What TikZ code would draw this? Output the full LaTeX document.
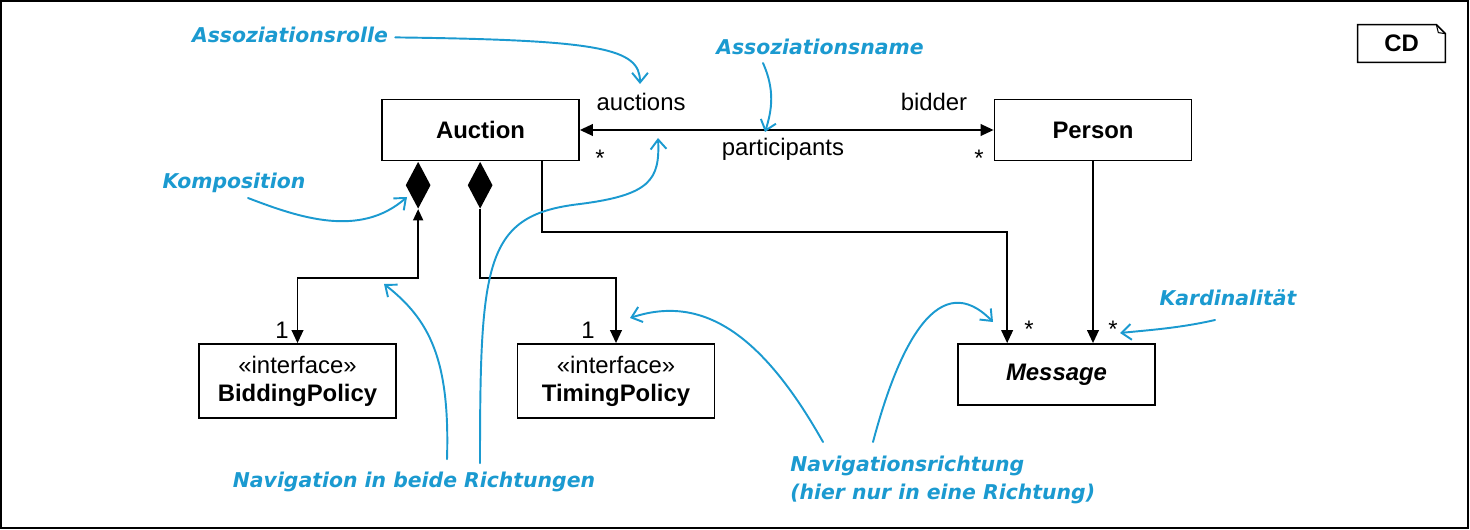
\documentclass[tikz,border=0pt]{standalone}
\usepackage{fontspec}
\setmainfont{Liberation Sans}
\newfontfamily\notefont{DejaVu Sans}
\usepackage{tikz}
\usetikzlibrary{shapes.geometric,arrows.meta,positioning,calc}
\definecolor{note}{HTML}{1B9AD0}
\definecolor{ink}{HTML}{000000}

\begin{document}
\begin{tikzpicture}[x=0.02cm, y=-0.02cm,
    >={Triangle[length=7.4pt,width=6.6pt]},
    classbox/.style={rectangle, draw=ink, line width=1pt, fill=white,
                     minimum width=3.94cm, minimum height=1.22cm,
                     align=center, inner sep=0pt,
                     font=\fontsize{13.6}{16}\selectfont},
    ifacebox/.style={classbox, minimum height=1.48cm},
    compdiamond/.style={diamond, fill=ink, draw=none, inner sep=0pt,
                        minimum width=0.5cm, minimum height=0.94cm, anchor=north},
    assoc/.style={draw=ink, line width=1.1pt},
    lbl/.style={anchor=base, inner sep=0pt, font=\fontsize{13.6}{16}\selectfont},
    notetext/.style={text=note, inner sep=0pt, anchor=base,
                     font=\notefont\bfseries\itshape\fontsize{11.6}{15.9}\selectfont},
    notearrow/.style={draw=note, line width=1.1pt, line cap=round,
                      -{Straight Barb[length=5.5pt,width=9pt]}},
]
\useasboundingbox (0,0) rectangle (1470,530);
\draw[line width=0.8pt] (1,1) rectangle (1468,528);

% CD frame
\node[font=\bfseries\fontsize{13.6}{16}\selectfont, inner sep=0pt,
      minimum width=1.74cm, minimum height=0.74cm] (cd) at (1401.5,43.5) {CD};
\draw[line width=0.9pt] (cd.south west) -- (cd.north west)
    -- ($(cd.north east)+(-9,0)$) -- ($(cd.north east)+(0,9)$)
    -- (cd.south east) -- cycle;
\draw[line width=0.6pt] ($(cd.north east)+(-9,0)$) -- ($(cd.north east)+(-7,8)$)
    -- ($(cd.north east)+(0,9)$);

% classes
\node[classbox] (auction) at (480.5,130) {\textbf{Auction}};
\node[classbox] (person) at (1093,130) {\textbf{Person}};
\node[ifacebox] (bidding) at (297.5,381) {«interface»\\\textbf{BiddingPolicy}};
\node[ifacebox] (timing) at (616,381) {«interface»\\\textbf{TimingPolicy}};
\node[classbox] (message) at (1056.5,374.5) {\textbf{\itshape Message}};

\node[compdiamond] (dBid) at ($(auction.south west)+(37,0)$) {};
\node[compdiamond] (dTim) at ($(auction.south west)+(99,0)$) {};

% associations
\draw[assoc, <->] (auction.east) -- (person.west);
\draw[assoc, {Triangle[length=6.4pt,width=5.6pt]}->] (dBid.south) -- ++(0,69) -| (bidding.north);
\draw[assoc, ->] (dTim.south) -- ++(0,69) -| (timing.north);
\draw[assoc, ->] ($(auction.south east)+(-38,0)$) -- ++(0,71) -| ($(message.north west)+(50,0)$);
\draw[assoc, ->] (person.south) -- (person.south |- message.north);

% roles, name, multiplicities
\node[lbl] (rAuc) at (641,111) {auctions};
\node[lbl] (rBid) at (934,111) {bidder};
\node[lbl] (aName) at (783,156) {participants};
\node[lbl] (mAuc) at (600,167) {*};
\node[lbl] (mPer) at (979,167) {*};
\node[lbl] (mBid) at (282,338) {1};
\node[lbl] (mTim) at (588,338) {1};
\node[lbl] (mMsgA) at (1029,337) {*};
\node[lbl] (mMsgP) at (1113,337) {*};

% notes
\node[notetext] (nRole) at (290,43) {Assoziationsrolle};
\node[notetext] (nName) at (820,55) {Assoziationsname};
\node[notetext] (nKomp) at (234,189) {Komposition};
\node[notetext] (nBoth) at (414,487) {Navigation in beide Richtungen};
\node[notetext, align=left, anchor=north west] (nDir) at (790,456)
    {Navigationsrichtung\\(hier nur in eine Richtung)};
\node[notetext] (nCard) at (1228,305) {Kardinalität};

\coordinate (tRole) at (640,84);
\coordinate (tName) at (765,132);
\coordinate (tKomp) at (407,197);
\coordinate (tBothL) at (384,284);
\coordinate (tBothR) at (658,138);
\coordinate (tDirL) at (630,318);
\coordinate (tDirR) at (993,322);
\coordinate (tCard) at (1120,333);

\draw[notearrow] ($(nRole.east)+(7,2)$) .. controls (600,40) and (640,48) .. (tRole);
\draw[notearrow] ($(nName.base)+(-57,8)$) .. controls (775,90) and (772,110) .. (tName);
\draw[notearrow] ($(nKomp.base)+(14,9)$) .. controls (300,218) and (360,238) .. (tKomp);
\draw[notearrow] ($(nBoth.north)+(33,-12)$) .. controls (450,360) and (430,320) .. (tBothL);
\draw[notearrow] ($(nBoth.north)+(66,-8)$) .. controls (480,260) and (485,215) .. (580,204)
    .. controls (650,195) and (660,180) .. (tBothR);
\draw[notearrow] ($(nDir.north west)+(33,-14)$) .. controls (760,330) and (700,295) .. (tDirL);
\draw[notearrow] ($(nDir.north west)+(83,-14)$) .. controls (900,340) and (940,268) .. (tDirR);
\draw[notearrow] ($(nCard.base)+(-13,15)$) .. controls (1180,328) and (1150,330) .. (tCard);

\end{tikzpicture}
\end{document}
